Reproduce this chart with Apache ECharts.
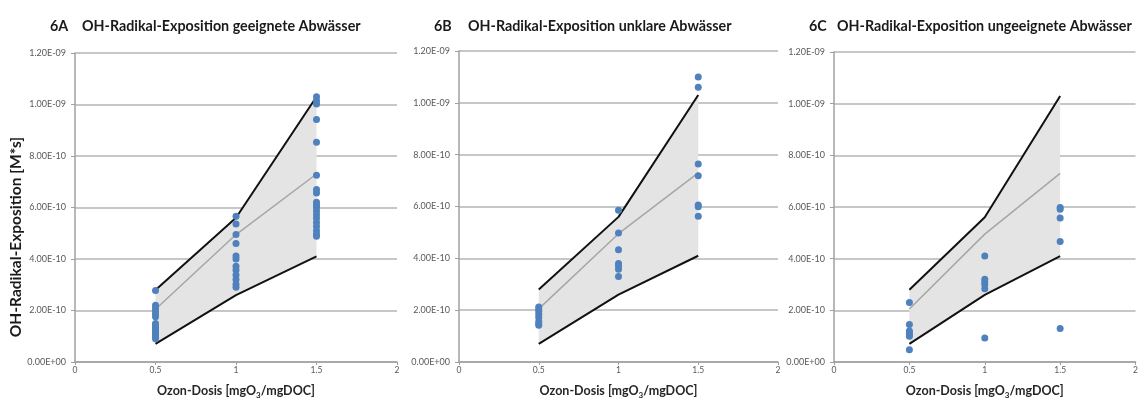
<!DOCTYPE html>
<html>
<head>
<meta charset="utf-8">
<script src="https://cdn.jsdelivr.net/npm/echarts@6/dist/echarts.min.js"></script>
<style>
  html, body { margin: 0; padding: 0; background: #fff; }
  #chart { width: 1141px; height: 404px; }
</style>
</head>
<body>
<div id="chart"></div>
<script>
// Ozone doses (x positions of the measurement columns)
const doses = [0.5, 1, 1.5];

// Envelope of the expected OH radical exposure (upper / lower bound) and the mean curve
const upperBound = [2.8e-10, 5.6e-10, 1.03e-9];
const lowerBound = [0.7e-10, 2.6e-10, 4.1e-10];
const meanCurve = [2.05e-10, 4.95e-10, 7.3e-10];

// 6A: suitable waste waters, measured exposures per dose
const geeignet05 = [2.78e-10, 2.2e-10, 2.1e-10, 1.98e-10, 1.86e-10, 1.76e-10, 1.5e-10, 1.42e-10, 1.35e-10, 1.27e-10, 1.2e-10, 1.12e-10, 1.05e-10, 0.98e-10, 0.9e-10];
const geeignet10 = [5.66e-10, 5.36e-10, 4.95e-10, 4.6e-10, 4.12e-10, 4.0e-10, 3.72e-10, 3.57e-10, 3.38e-10, 3.2e-10, 3.02e-10, 2.9e-10];
const geeignet15 = [10.3e-10, 10.15e-10, 10.02e-10, 9.42e-10, 8.53e-10, 7.25e-10, 6.7e-10, 6.56e-10, 6.2e-10, 6.1e-10, 6.0e-10, 5.86e-10, 5.72e-10, 5.58e-10, 5.42e-10, 5.26e-10, 5.1e-10, 4.96e-10, 4.88e-10];

// 6B: unclear waste waters
const unklar05 = [2.12e-10, 2.04e-10, 1.95e-10, 1.83e-10, 1.72e-10, 1.56e-10, 1.48e-10, 1.42e-10];
const unklar10 = [5.86e-10, 4.98e-10, 4.33e-10, 3.8e-10, 3.7e-10, 3.58e-10, 3.3e-10];
const unklar15 = [11.0e-10, 10.6e-10, 7.64e-10, 7.19e-10, 6.06e-10, 5.99e-10, 5.62e-10];

// 6C: unsuitable waste waters
const ungeeignet05 = [2.3e-10, 1.45e-10, 1.2e-10, 1.12e-10, 1.05e-10, 1.0e-10, 0.47e-10];
const ungeeignet10 = [4.1e-10, 3.2e-10, 3.1e-10, 3.0e-10, 2.84e-10, 0.93e-10];
const ungeeignet15 = [5.98e-10, 5.91e-10, 5.57e-10, 4.66e-10, 1.3e-10];

// Axis ranges and tick spacing
const xMin = 0, xMax = 2, xStep = 0.5;
const yMin = 0, yMax = 1.2e-9, yStep = 2e-10;

const panelTitles = [
  { tag: '6A', text: 'OH-Radikal-Exposition geeignete Abwässer' },
  { tag: '6B', text: 'OH-Radikal-Exposition unklare Abwässer' },
  { tag: '6C', text: 'OH-Radikal-Exposition ungeeignete Abwässer' }
];
const panelPoints = [
  [geeignet05, geeignet10, geeignet15],
  [unklar05, unklar10, unklar15],
  [ungeeignet05, ungeeignet10, ungeeignet15]
];

const FONT = 'Lato, "Open Sans", sans-serif';
const dotColor = '#4f81bd';

// Excel-like scientific label, e.g. 1.20E-09
function sci(v) {
  if (Math.abs(v) < 1e-20) return '0.00E+00';
  const e = Math.floor(Math.log10(Math.abs(v)) + 1e-9);
  const m = v / Math.pow(10, e);
  return m.toFixed(2) + 'E' + (e < 0 ? '-' : '+') + String(Math.abs(e)).padStart(2, '0');
}

const grids = [
  { left: 75, top: 53, width: 322, height: 316 },
  { left: 459, top: 51, width: 319, height: 318 },
  { left: 834, top: 52, width: 305, height: 317 }
];

const xAxes = grids.map((g, i) => ({
  gridIndex: i, type: 'value', min: xMin, max: xMax, interval: xStep,
  name: 'Ozon-Dosis [mgO{sub|3}/mgDOC]',
  nameLocation: 'middle', nameGap: 21,
  nameTextStyle: {
    fontFamily: FONT, fontWeight: 'bold', fontSize: 12.5, color: '#262626',
    rich: { sub: { fontFamily: FONT, fontWeight: 'bold', fontSize: 8, color: '#262626', padding: [8, 0, 0, 0] } }
  },
  axisLine: { show: true, onZero: false, lineStyle: { color: '#a0a0a0', width: 1.5 } },
  axisTick: { show: true, length: 3, lineStyle: { color: '#a0a0a0' } },
  axisLabel: { fontFamily: FONT, fontSize: 8.5, color: '#595959', margin: 4,
    formatter: v => String(v) },
  splitLine: { show: false }
}));

const yAxes = grids.map((g, i) => ({
  gridIndex: i, type: 'value', min: yMin, max: yMax, interval: yStep,
  axisLine: { show: true, lineStyle: { color: '#a0a0a0', width: 1.5 } },
  axisTick: { show: true, length: 4, lineStyle: { color: '#a0a0a0' } },
  axisLabel: { fontFamily: FONT, fontSize: 9, color: '#595959', margin: 9, formatter: sci },
  splitLine: { show: true, lineStyle: { color: '#b4b4b4', width: 1.5 } }
}));

const series = [];
grids.forEach((g, i) => {
  // Shaded band between lower and upper bound
  series.push({
    type: 'custom', xAxisIndex: i, yAxisIndex: i, z: 1, silent: true,
    data: doses.map((d, k) => [d, upperBound[k], lowerBound[k]]),
    renderItem: (params, api) => {
      if (params.dataIndex !== 0) return null;
      const pts = [];
      doses.forEach((d, k) => pts.push(api.coord([d, upperBound[k]])));
      for (let k = doses.length - 1; k >= 0; k--) pts.push(api.coord([doses[k], lowerBound[k]]));
      return { type: 'polygon', shape: { points: pts }, style: { fill: '#e4e4e4' } };
    }
  });
  series.push({
    type: 'line', xAxisIndex: i, yAxisIndex: i, z: 3, symbol: 'none', silent: true,
    data: doses.map((d, k) => [d, meanCurve[k]]),
    lineStyle: { color: '#a6a6a6', width: 1.5 }
  });
  [upperBound, lowerBound].forEach(b => series.push({
    type: 'line', xAxisIndex: i, yAxisIndex: i, z: 4, symbol: 'none', silent: true,
    data: doses.map((d, k) => [d, b[k]]),
    lineStyle: { color: '#111', width: 2 }
  }));
  const pts = [];
  panelPoints[i].forEach((col, k) => col.forEach(v => pts.push([doses[k], v])));
  series.push({
    type: 'scatter', xAxisIndex: i, yAxisIndex: i, z: 5, silent: true,
    symbol: 'circle', symbolSize: 7, data: pts,
    itemStyle: { color: dotColor, opacity: 1 }
  });
});

const titleStyle = { fontFamily: FONT, fontWeight: 'bold', fontSize: 14.3, color: '#1a1a1a' };
const titleTagLeft = [45, 429, 804];
const titleTextLeft = [77, 463, 832];
const titles = [];
panelTitles.forEach((t, i) => {
  titles.push({ text: t.tag, left: titleTagLeft[i], top: 14, textStyle: titleStyle });
  titles.push({ text: t.text, left: titleTextLeft[i], top: 14, textStyle: titleStyle });
});

const chart = echarts.init(document.getElementById('chart'), null, { renderer: 'canvas' });
chart.setOption({
  animation: false,
  backgroundColor: '#fff',
  title: titles,
  grid: grids,
  xAxis: xAxes,
  yAxis: yAxes,
  series: series,
  graphic: [{
    type: 'text', x: 16, y: 237, rotation: Math.PI / 2,
    style: {
      text: 'OH-Radikal-Exposition [M*s]', fontFamily: FONT, fontWeight: 'bold', fontSize: 15.5,
      fill: '#1a1a1a', align: 'center', verticalAlign: 'middle'
    }
  }]
});
</script>
</body>
</html>
